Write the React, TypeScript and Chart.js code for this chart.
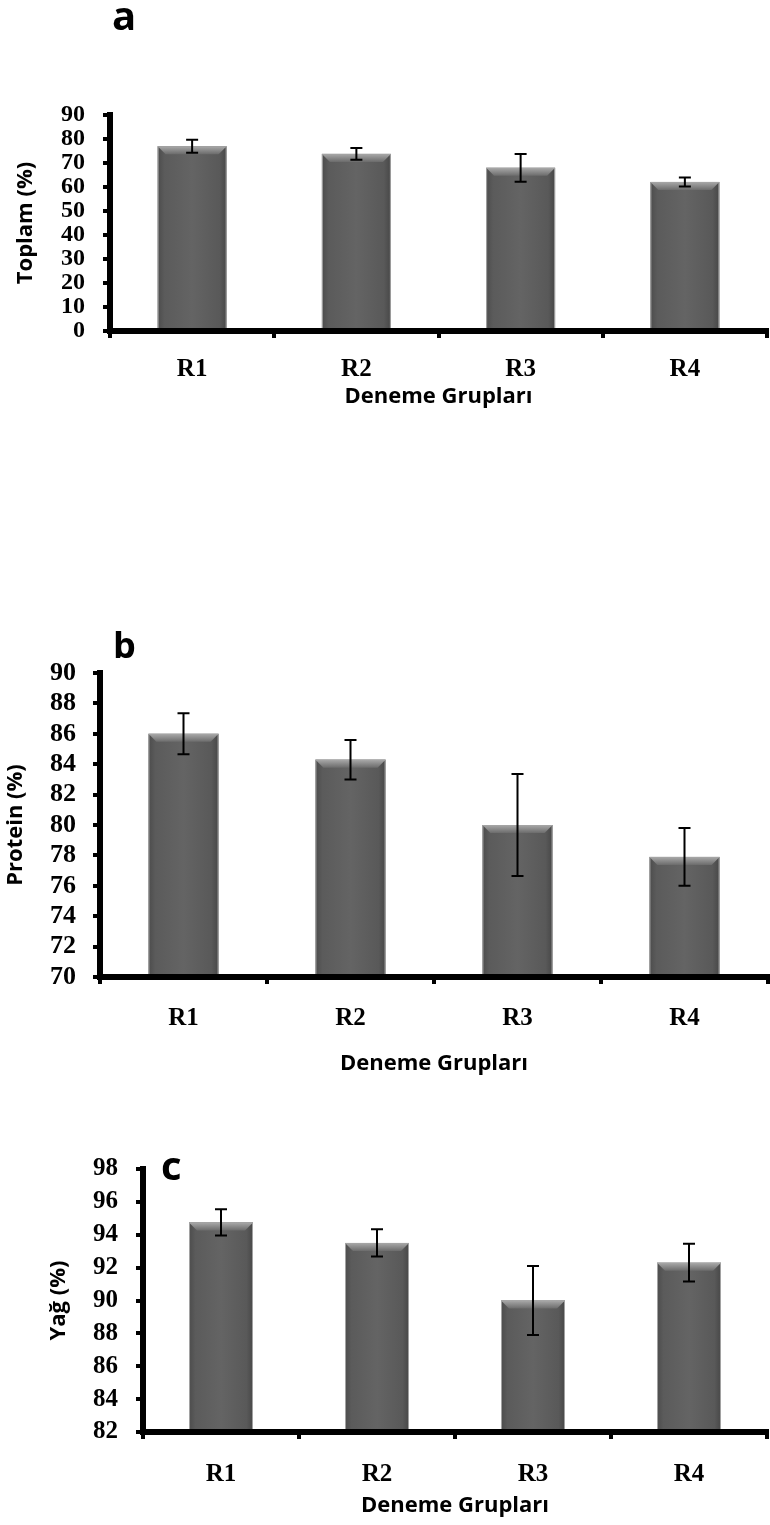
import React, { useEffect, useRef } from 'react';
import { Chart, registerables } from 'chart.js';

Chart.register(...registerables);

// ---- data ----
const groups = ['R1', 'R2', 'R3', 'R4'];

const toplamValues = [77.0, 73.8, 68.0, 62.1];
const toplamErrors = [2.7, 2.4, 5.8, 1.9];
const toplamTicks = { min: 0, max: 90, step: 10 };

const proteinValues = [86.0, 84.3, 80.0, 77.9];
const proteinErrors = [1.35, 1.3, 3.35, 1.9];
const proteinTicks = { min: 70, max: 90, step: 2 };

const yagValues = [94.75, 93.5, 90.0, 92.3];
const yagErrors = [0.8, 0.83, 2.1, 1.15];
const yagTicks = { min: 82, max: 98, step: 2 };

const xTitle = 'Deneme Grupları';

// ---- plugins ----
const barDecorPlugin = {
  id: 'barDecor',
  afterDatasetsDraw(chart: any, _args: any, opts: any) {
    const ctx = chart.ctx;
    const area = chart.chartArea;
    const meta = chart.getDatasetMeta(0);
    const yScale = chart.scales.y;
    const ds = chart.data.datasets[0];
    ctx.save();
    meta.data.forEach((bar: any, i: number) => {
      const w = bar.width;
      const l = bar.x - w / 2;
      const r = bar.x + w / 2;
      const top = bar.y;
      const base = Math.min(bar.base, area.bottom);
      // body
      const g = ctx.createLinearGradient(l, 0, r, 0);
      g.addColorStop(0, '#4c4c4c');
      g.addColorStop(0.1, '#5b5b5b');
      g.addColorStop(0.5, '#646464');
      g.addColorStop(0.9, '#595959');
      g.addColorStop(1, '#474747');
      ctx.fillStyle = g;
      ctx.fillRect(l, top, w, base - top);
      // top bevel
      const b = 8;
      const tg = ctx.createLinearGradient(0, top, 0, top + b);
      tg.addColorStop(0, '#a9a9a9');
      tg.addColorStop(1, '#6c6c6c');
      ctx.fillStyle = tg;
      ctx.beginPath();
      ctx.moveTo(l, top);
      ctx.lineTo(r, top);
      ctx.lineTo(r - b, top + b);
      ctx.lineTo(l + b, top + b);
      ctx.closePath();
      ctx.fill();
      // outline
      ctx.strokeStyle = '#a4a4a4';
      ctx.lineWidth = 1;
      ctx.strokeRect(l + 0.5, top + 0.5, w - 1, base - top);
      // error bar
      const v = ds.data[i];
      const e = opts.errors[i];
      const yHi = yScale.getPixelForValue(v + e);
      const yLo = yScale.getPixelForValue(v - e);
      const cap = 6;
      ctx.strokeStyle = '#000';
      ctx.lineWidth = 2;
      ctx.beginPath();
      ctx.moveTo(bar.x, yHi);
      ctx.lineTo(bar.x, yLo);
      ctx.moveTo(bar.x - cap, yHi);
      ctx.lineTo(bar.x + cap, yHi);
      ctx.moveTo(bar.x - cap, yLo);
      ctx.lineTo(bar.x + cap, yLo);
      ctx.stroke();
    });
    ctx.restore();
  },
};

const panelLabelPlugin = {
  id: 'panelLabel',
  afterDraw(chart: any, _args: any, opts: any) {
    const ctx = chart.ctx;
    ctx.save();
    ctx.font = `bold ${opts.size}px "Open Sans"`;
    ctx.fillStyle = '#000';
    ctx.textBaseline = 'alphabetic';
    ctx.textAlign = 'left';
    ctx.fillText(opts.text, opts.x, opts.y);
    ctx.restore();
  },
};

type PanelSpec = {
  values: number[];
  errors: number[];
  ticks: { min: number; max: number; step: number };
  yTitle: string;
  letter: string;
  letterX: number;
  letterY: number;
  letterSize: number;
  height: number;
  padTop: number;
  padBottom: number;
  padRight: number;
  yWidth: number;
  xHeight: number;
  yTitlePad: number;
  yTickSize: number;
  yTickPad: number;
  xTickPad: number;
  barPct: number;
};

function makeConfig(p: PanelSpec): any {
  return {
    type: 'bar',
    data: {
      labels: groups,
      datasets: [
        {
          data: p.values,
          backgroundColor: 'rgba(0,0,0,0)',
          borderWidth: 0,
          barPercentage: p.barPct,
          categoryPercentage: 1,
        },
      ],
    },
    options: {
      responsive: false,
      animation: false,
      devicePixelRatio: 1,
      layout: { padding: { left: 0, right: p.padRight, top: p.padTop, bottom: p.padBottom } },
      plugins: {
        legend: { display: false },
        tooltip: { enabled: false },
        barDecor: { errors: p.errors },
        panelLabel: { text: p.letter, x: p.letterX, y: p.letterY, size: p.letterSize },
      },
      scales: {
        x: {
          type: 'category',
          offset: true,
          afterFit: (s: any) => {
            s.height = p.xHeight;
          },
          grid: {
            display: true,
            offset: true,
            drawOnChartArea: false,
            drawTicks: true,
            tickLength: 7,
            lineWidth: 4,
            color: '#000',
          },
          border: { display: true, width: 6, color: '#000', z: 1 },
          ticks: {
            color: '#000',
            padding: p.xTickPad,
            autoSkip: false,
            font: { family: '"Liberation Serif"', weight: 'bold', size: 25 },
            maxRotation: 0,
          },
          title: {
            display: true,
            text: xTitle,
            color: '#000',
            font: { family: '"Open Sans"', weight: 'bold', size: 22 },
            padding: { top: 0, bottom: 0 },
          },
        },
        y: {
          min: p.ticks.min,
          max: p.ticks.max,
          afterFit: (s: any) => {
            s.width = p.yWidth;
          },
          grid: {
            display: true,
            drawOnChartArea: false,
            drawTicks: true,
            tickLength: 7,
            lineWidth: 4,
            color: '#000',
          },
          border: { display: true, width: 6, color: '#000', z: 1 },
          ticks: {
            stepSize: p.ticks.step,
            autoSkip: false,
            color: '#000',
            padding: p.yTickPad,
            font: { family: '"Liberation Serif"', weight: 'bold', size: p.yTickSize },
          },
          title: {
            display: true,
            text: p.yTitle,
            color: '#000',
            font: { family: '"Open Sans"', weight: 'bold', size: 22 },
            padding: { top: p.yTitlePad, bottom: 0 },
          },
        },
      },
    },
    plugins: [barDecorPlugin, panelLabelPlugin],
  };
}

const panels: { top: number; p: PanelSpec }[] = [
  {
    top: 0,
    p: {
      values: toplamValues,
      errors: toplamErrors,
      ticks: toplamTicks,
      yTitle: 'Toplam (%)',
      letter: 'a',
      letterX: 112,
      letterY: 30,
      letterSize: 40,
      height: 440,
      padTop: 115,
      padBottom: 30,
      padRight: 3,
      yWidth: 110,
      xHeight: 79,
      yTitlePad: 12.5,
      yTickSize: 24,
      yTickPad: 18,
      xTickPad: 17,
      barPct: 0.42,
    },
  },
  {
    top: 600,
    p: {
      values: proteinValues,
      errors: proteinErrors,
      ticks: proteinTicks,
      yTitle: 'Protein (%)',
      letter: 'b',
      letterX: 113,
      letterY: 58,
      letterSize: 36,
      height: 500,
      padTop: 73,
      padBottom: 23,
      padRight: 2,
      yWidth: 100,
      xHeight: 100,
      yTitlePad: 2.5,
      yTickSize: 26,
      yTickPad: 17,
      xTickPad: 20,
      barPct: 0.42,
    },
  },
  {
    top: 1100,
    p: {
      values: yagValues,
      errors: yagErrors,
      ticks: yagTicks,
      yTitle: 'Yağ (%)',
      letter: 'c',
      letterX: 161,
      letterY: 80,
      letterSize: 40,
      height: 425,
      padTop: 69,
      padBottom: 6,
      padRight: 3,
      yWidth: 143,
      xHeight: 87,
      yTitlePad: 45.5,
      yTickSize: 25,
      yTickPad: 18,
      xTickPad: 21,
      barPct: 0.41,
    },
  },
];

function Panel({ top, p }: { top: number; p: PanelSpec }) {
  const ref = useRef<HTMLCanvasElement | null>(null);
  useEffect(() => {
    if (!ref.current) return;
    const chart = new Chart(ref.current, makeConfig(p));
    return () => chart.destroy();
  }, []);
  return (
    <canvas
      ref={ref}
      width={770}
      height={p.height}
      style={{ position: 'absolute', left: 0, top, width: 770, height: p.height }}
    />
  );
}

export default function App() {
  return (
    <div
      style={{
        position: 'absolute',
        left: 0,
        top: 0,
        width: 770,
        height: 1525,
        background: '#fff',
        overflow: 'hidden',
      }}
    >
      {panels.map((pp, i) => (
        <Panel key={i} top={pp.top} p={pp.p} />
      ))}
    </div>
  );
}
